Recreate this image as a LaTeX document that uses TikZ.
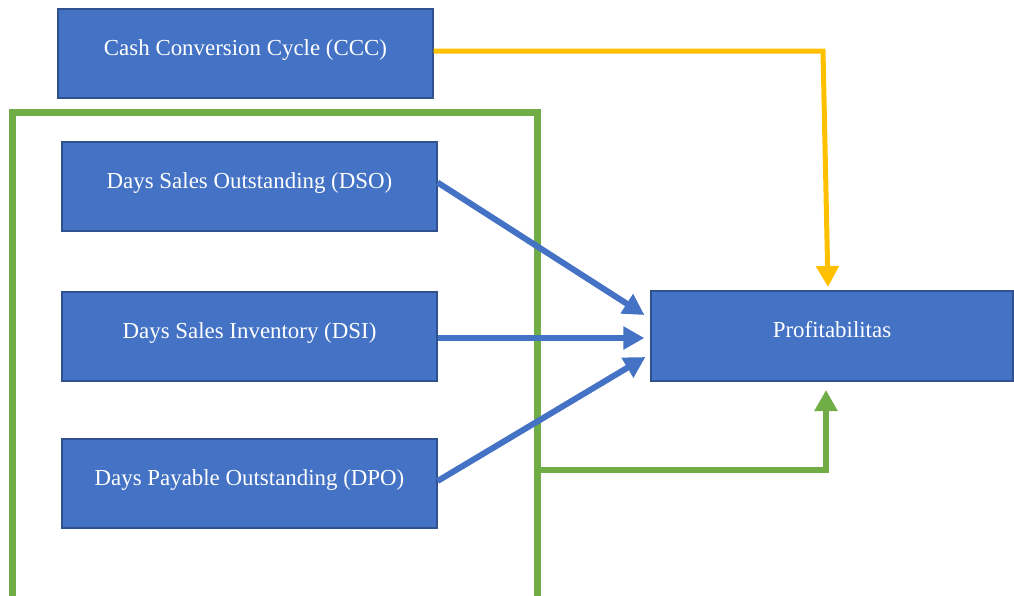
\documentclass[tikz,border=0pt]{standalone}
\usepackage{fontspec}
\setmainfont{Liberation Serif}
\usetikzlibrary{arrows.meta}
\definecolor{boxblue}{HTML}{4472C4}
\definecolor{boxedge}{HTML}{2F528F}
\definecolor{arrblue}{HTML}{4472C4}
\definecolor{cccyellow}{HTML}{FFC000}
\definecolor{frgreen}{HTML}{70AD47}
\tikzset{
  box/.style={draw=boxedge, line width=1.2pt, fill=boxblue, text=white,
    minimum width=375pt, minimum height=89pt, inner sep=0pt,
    font=\fontsize{22.9}{27}\selectfont, text height=16pt, text depth=13pt},
  tip/.style={-{Triangle[length=21pt,width=22pt]}},
  bluearrow/.style={tip, draw=arrblue, line width=6pt},
  yellowarrow/.style={tip, draw=cccyellow, line width=5pt},
  greenarrow/.style={tip, draw=frgreen, line width=5.5pt},
  frame/.style={draw=frgreen, line width=7pt}
}
\begin{document}
\begin{tikzpicture}[x=1pt,y=-1pt]
\useasboundingbox (0,0) rectangle (1014,595);
\clip (0,0) rectangle (1014,595);
\draw[frame] (12,112) rectangle (537,599);
\node[box] (ccc) at (245.5,53.5) {Cash Conversion Cycle (CCC)};
\node[box] (dso) at (249.5,186.5) {Days Sales Outstanding (DSO)};
\node[box] (dsi) at (249.5,336.5) {Days Sales Inventory (DSI)};
\node[box] (dpo) at (249.5,483.5) {Days Payable Outstanding (DPO)};
\node[box, minimum width=362pt, minimum height=90pt] (prof) at (832,336) {Profitabilitas};
\coordinate (ycorner) at (823,51);
\coordinate (ytip) at (828,287);
\coordinate (gstart) at (537,470);
\coordinate (gcorner) at (826,470);
\coordinate (gtip) at (826,390);
\draw[yellowarrow] ([yshift=2.5pt]ccc.east) -- (ycorner) -- (ytip);
\draw[greenarrow] (gstart) -- (gcorner) -- (gtip);
\draw[bluearrow] ([yshift=4pt]dso.east) -- ([xshift=-6pt,yshift=21pt]prof.west);
\draw[bluearrow] ([yshift=-1.5pt]dsi.east) -- ([xshift=-6pt,yshift=-2pt]prof.west);
\draw[bluearrow] ([yshift=2.5pt]dpo.east) -- ([xshift=-5pt,yshift=-21pt]prof.west);
\end{tikzpicture}
\end{document}
